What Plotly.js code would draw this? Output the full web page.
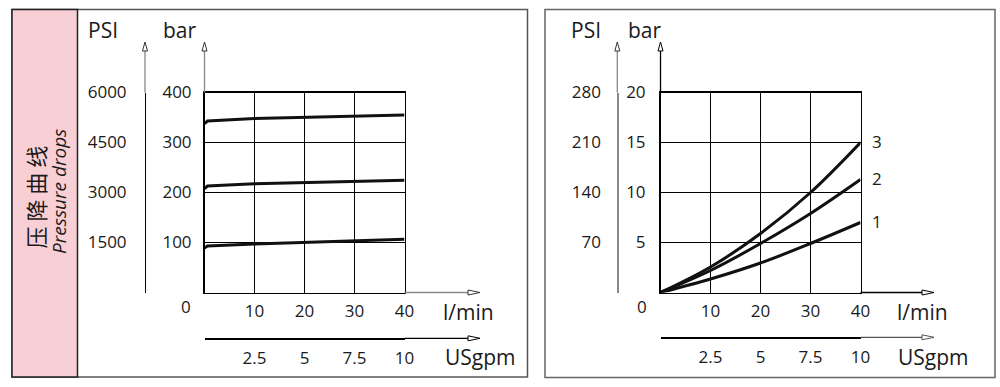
<!DOCTYPE html>
<html>
<head>
<meta charset="utf-8">
<script src="https://cdn.plot.ly/plotly-3.0.1.min.js"></script>
<style>html,body{margin:0;padding:0;background:#fff;}#chart{width:1000px;height:387px;}</style>
</head>
<body>
<div id="chart"></div>
<script>
// ---- data ----
const flowLeft = [0, 0.6, 10, 20, 30, 40];          // l/min
const barHigh  = [338, 343, 348, 350.5, 352.5, 355]; // bar
const barMid   = [208, 213, 217.5, 219.5, 222, 224.5];
const barLow   = [89, 93, 97, 100.5, 103, 106.5];

const flowRight = [0, 10, 20, 30, 40];               // l/min
const curve1 = [0, 1.35, 2.95, 4.9, 7.0];            // bar
const curve2 = [0, 2.2, 4.9, 7.9, 11.3];
const curve3 = [0, 2.55, 5.9, 10, 15];
const curveNames = ["1", "2", "3"];

const flowTicks = [10, 20, 30, 40];
const gpmTicks = [2.5, 5, 7.5, 10];
const barTicksLeft = [100, 200, 300, 400];
const psiTicksLeft = [1500, 3000, 4500, 6000];
const barTicksRight = [5, 10, 15, 20];
const psiTicksRight = [70, 140, 210, 280];

// ---- helpers (pixel -> paper) ----
const W = 1000, H = 387;
const px = x => x / W;
const py = y => 1 - y / H;
const FONT = "Open Sans";
const INK = "#1a1a1a";

const lineStyle = {color: "#111", width: 3};
function tr(x, y, xa, ya, shape) {
  return {x, y, xaxis: xa, yaxis: ya, mode: "lines", line: Object.assign({shape: shape || "linear"}, lineStyle),
          hoverinfo: "skip", showlegend: false};
}
const data = [
  tr(flowLeft, barHigh, "x", "y"),
  tr(flowLeft, barMid, "x", "y"),
  tr(flowLeft, barLow, "x", "y"),
  tr(flowRight, curve1, "x2", "y2", "spline"),
  tr(flowRight, curve2, "x2", "y2", "spline"),
  tr(flowRight, curve3, "x2", "y2", "spline"),
  // carriers for the secondary scales
  {x: [0], y: [0], xaxis: "x3", yaxis: "y3", mode: "markers", opacity: 0, hoverinfo: "skip", showlegend: false},
  {x: [0], y: [0], xaxis: "x4", yaxis: "y4", mode: "markers", opacity: 0, hoverinfo: "skip", showlegend: false}
];

const tickFont = {family: FONT, size: 17, color: INK};
function mainX(dom, anchor) {
  return {domain: dom, anchor, range: [0, 40], tickvals: flowTicks, ticktext: flowTicks.map(String),
    showgrid: true, gridcolor: "#000", gridwidth: 1.5, showline: true, mirror: true, linecolor: "#000", linewidth: 1.5,
    zeroline: false, ticks: "", tickfont: tickFont, ticklabelstandoff: 3, fixedrange: true};
}
function mainY(dom, anchor, range, vals, standoff) {
  return {domain: dom, anchor, range, tickvals: vals, ticktext: vals.map(String),
    showgrid: true, gridcolor: "#000", gridwidth: 1.5, showline: true, mirror: true, linecolor: "#000", linewidth: 1.5,
    zeroline: false, ticks: "", tickfont: tickFont, ticklabelstandoff: standoff, fixedrange: true};
}
function secX(over, pos) {
  return {overlaying: over, anchor: "free", position: pos, side: "bottom", range: [0, 10], tickvals: gpmTicks,
    ticktext: gpmTicks.map(String), showgrid: false, zeroline: false, showline: true, linecolor: "#000", linewidth: 1.3,
    ticks: "", tickfont: tickFont, ticklabelstandoff: 4, fixedrange: true};
}
function secY(over, pos, range, vals, color, standoff) {
  return {overlaying: over, anchor: "free", position: pos, side: "left", range, tickvals: vals,
    ticktext: vals.map(String), showgrid: false, zeroline: false, showline: true, linecolor: color, linewidth: 1.3,
    ticks: "", tickfont: tickFont, ticklabelstandoff: standoff, fixedrange: true};
}

const yDom = [py(292.5), py(92.5)];
const layout = {
  width: W, height: H, margin: {l: 0, r: 0, t: 0, b: 0},
  paper_bgcolor: "#fff", plot_bgcolor: "rgba(0,0,0,0)",
  font: {family: FONT, color: INK},
  showlegend: false,
  xaxis: mainX([px(204.5), px(404.5)], "y"),
  yaxis: mainY(yDom, "x", [0, 400], barTicksLeft, 8),
  xaxis2: mainX([px(660.5), px(860.5)], "y2"),
  yaxis2: mainY(yDom, "x2", [0, 20], barTicksRight, 10),
  xaxis3: secX("x", py(338.3)),
  yaxis3: secY("y", px(145), [0, 6000], psiTicksLeft, "#000", 15),
  xaxis4: secX("x2", py(337.3)),
  yaxis4: secY("y2", px(617.3), [0, 280], psiTicksRight, "#888", 13),
  shapes: [],
  annotations: []
};

const S = layout.shapes, A = layout.annotations;
// panel frames
S.push({type: "rect", xref: "paper", yref: "paper", x0: px(12), x1: px(527.5), y0: py(377), y1: py(9.5),
  line: {color: "#555", width: 1.5}, fillcolor: "rgba(0,0,0,0)", layer: "below"});
S.push({type: "rect", xref: "paper", yref: "paper", x0: px(12), x1: px(77.5), y0: py(377), y1: py(9.5),
  line: {color: "#222", width: 1.5}, fillcolor: "#F8CFD5", layer: "below"});
S.push({type: "rect", xref: "paper", yref: "paper", x0: px(545), x1: px(995), y0: py(377.5), y1: py(9.5),
  line: {color: "#666", width: 1.5}, fillcolor: "rgba(0,0,0,0)", layer: "below"});

function seg(x0, y0, x1, y1, color, w) {
  S.push({type: "line", xref: "paper", yref: "paper", x0: px(x0), y0: py(y0), x1: px(x1), y1: py(y1),
    line: {color, width: w || 1.3}});
}
function upArrow(x, tipY, color) {
  S.push({type: "path", xref: "paper", yref: "paper",
    path: `M ${px(x)} ${py(tipY)} L ${px(x - 2.5)} ${py(tipY + 9)} L ${px(x + 2.5)} ${py(tipY + 9)} Z`,
    line: {color, width: 1}, fillcolor: "#fff"});
}
function rightArrow(tipX, y, color) {
  S.push({type: "path", xref: "paper", yref: "paper",
    path: `M ${px(tipX)} ${py(y)} L ${px(tipX - 12)} ${py(y - 2.5)} L ${px(tipX - 12)} ${py(y + 2.5)} Z`,
    line: {color, width: 1}, fillcolor: "#fff"});
}
// vertical axis extensions + arrows
seg(145, 50, 145, 92.5, "#888"); upArrow(145, 42, "#333");
seg(204.5, 50, 204.5, 92.5, "#888"); upArrow(204.5, 42, "#333");
seg(617.3, 50, 617.3, 92.5, "#888"); upArrow(617.3, 42, "#333");
seg(660.5, 50, 660.5, 92.5, "#000"); upArrow(660.5, 42, "#000");
// horizontal axis extensions + arrows
seg(404.5, 292.5, 468, 292.5, "#888"); rightArrow(480, 292.5, "#333");
seg(404.5, 338.3, 468, 338.3, "#000"); rightArrow(480, 338.3, "#000");
seg(860.5, 292.5, 922, 292.5, "#000"); rightArrow(934, 292.5, "#000");
seg(860.5, 337.3, 922, 337.3, "#555"); rightArrow(934, 337.3, "#555");

function ann(text, x, y, size, extra) {
  A.push(Object.assign({text, xref: "paper", yref: "paper", x: px(x), y: py(y), showarrow: false,
    xanchor: "center", yanchor: "middle", font: {family: FONT, size, color: INK}}, extra || {}));
}
ann("PSI", 103, 30, 21); ann("bar", 180, 30, 21);
ann("PSI", 586, 30, 21); ann("bar", 645, 30, 21);
ann("0", 185.5, 306.5, 17); ann("0", 642, 306.5, 17);
ann("l/min", 468, 312, 21); ann("USgpm", 480, 357, 21);
ann("l/min", 922, 312, 21); ann("USgpm", 933, 357, 21);
ann("压 降 曲 线", 34.5, 197, 22, {textangle: -90, font: {family: "Noto Sans CJK SC", size: 22, color: INK}});
ann("<i>Pressure drops</i>", 59, 192, 19, {textangle: -90});
// curve labels at curve ends
[curve1, curve2, curve3].forEach((c, i) => {
  A.push({text: curveNames[i], xref: "x2", yref: "y2", x: flowRight[flowRight.length - 1], y: c[c.length - 1],
    xshift: 16, yshift: 1, showarrow: false, xanchor: "center", yanchor: "middle",
    font: {family: FONT, size: 17, color: INK}});
});

Plotly.newPlot("chart", data, layout, {staticPlot: true, displayModeBar: false});
</script>
</body>
</html>
